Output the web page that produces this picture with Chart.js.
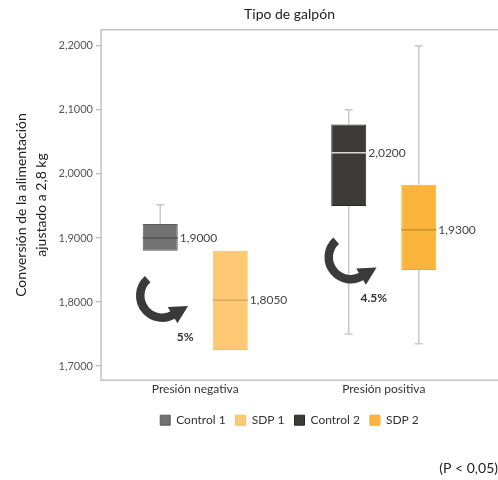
<!DOCTYPE html>
<html lang="es">
<head>
    <meta charset="UTF-8">
    <title>Tipo de galpón</title>
    <script src="https://cdn.jsdelivr.net/npm/chart.js"></script>
    <style>
        html, body {
            margin: 0;
            padding: 0;
            background: #fff;
        }
        #wrap {
            width: 498px;
            height: 480px;
        }
    </style>
</head>
<body>
    <div id="wrap"><canvas id="boxChart"></canvas></div>

    <script>
        // data
        const categories = ['Presión negativa', 'Presión positiva'];
        const seriesNames = ['Control 1', 'SDP 1', 'Control 2', 'SDP 2'];
        const seriesCategory = [0, 0, 1, 1];
        const q1 = [1.880, 1.725, 1.950, 1.850];
        const q3 = [1.922, 1.880, 2.077, 1.983];
        const medians = [1.900, 1.803, 2.033, 1.913];
        const whiskerLow = [1.880, 1.725, 1.750, 1.735];
        const whiskerHigh = [1.952, 1.880, 2.100, 2.200];
        const medianLabels = ['1,9000', '1,8050', '2,0200', '1,9300'];
        const yTicks = [1.7, 1.8, 1.9, 2.0, 2.1, 2.2];
        // curved arrows: one per category, vertical centre in axis units
        const arrowCentres = [1.81, 1.87];
        const arrowLabels = ['5%', '4.5%'];

        const fillColors = ['#727272', '#fec975', '#3c3a38', '#fbb53c'];
        const edgeColors = ['#5c5c5c', '#f3bd66', '#2a2826', '#eeaa33'];
        const medianColors = ['#555555', '#d9a85e', '#d8d8d8', '#cf8f2a'];

        const datasets = seriesNames.map((name, s) => ({
            label: name,
            data: categories.map((c, ci) => ci === seriesCategory[s] ? [q1[s], q3[s]] : null),
            backgroundColor: fillColors[s],
            borderColor: edgeColors[s],
            borderWidth: 1,
            borderSkipped: false
        }));

        function fmt(v) {
            return v.toFixed(4).replace('.', ',');
        }

        const boxExtras = {
            id: 'boxExtras',
            beforeDatasetsDraw(chart) {
                const ctx = chart.ctx;
                const y = chart.scales.y;
                const area = chart.chartArea;
                ctx.save();
                // frame, open on the right like the original
                ctx.strokeStyle = '#c4c4c4';
                ctx.lineWidth = 1.5;
                ctx.beginPath();
                ctx.moveTo(chart.width, area.top);
                ctx.lineTo(area.left, area.top);
                ctx.lineTo(area.left, area.bottom);
                ctx.lineTo(chart.width, area.bottom);
                ctx.stroke();
                // whiskers
                ctx.strokeStyle = '#c9c9c9';
                ctx.lineWidth = 1.5;
                seriesNames.forEach((name, s) => {
                    const bar = chart.getDatasetMeta(s).data[seriesCategory[s]];
                    const x = bar.x;
                    const pairs = [[q3[s], whiskerHigh[s]], [q1[s], whiskerLow[s]]];
                    pairs.forEach(([from, to]) => {
                        if (to === from) return;
                        ctx.beginPath();
                        ctx.moveTo(x, y.getPixelForValue(from));
                        ctx.lineTo(x, y.getPixelForValue(to));
                        ctx.moveTo(x - 4, y.getPixelForValue(to));
                        ctx.lineTo(x + 4, y.getPixelForValue(to));
                        ctx.stroke();
                    });
                });
                ctx.restore();
            },
            afterDatasetsDraw(chart) {
                const ctx = chart.ctx;
                const y = chart.scales.y;
                ctx.save();
                seriesNames.forEach((name, s) => {
                    const bar = chart.getDatasetMeta(s).data[seriesCategory[s]];
                    const half = bar.width / 2;
                    const my = y.getPixelForValue(medians[s]);
                    ctx.strokeStyle = medianColors[s];
                    ctx.lineWidth = 1.5;
                    ctx.beginPath();
                    ctx.moveTo(bar.x - half, my);
                    ctx.lineTo(bar.x + half, my);
                    ctx.stroke();
                    ctx.fillStyle = '#444';
                    ctx.font = '12px Lato';
                    ctx.textAlign = 'left';
                    ctx.textBaseline = 'middle';
                    ctx.fillText(medianLabels[s], bar.x + half + 2, my);
                });

                // curved arrows next to each control box
                categories.forEach((c, ci) => {
                    const s = seriesCategory.indexOf(ci);
                    const bar = chart.getDatasetMeta(s).data[ci];
                    const cx = bar.x + 2;
                    const cy = y.getPixelForValue(arrowCentres[ci]);
                    const r = 22;
                    const a0 = 1.27 * Math.PI;
                    const a1 = 0.33 * Math.PI;
                    ctx.strokeStyle = '#3a3a3a';
                    ctx.fillStyle = '#3a3a3a';
                    ctx.lineWidth = 8.5;
                    ctx.lineCap = 'butt';
                    ctx.beginPath();
                    ctx.arc(cx, cy, r, a0, a1, true);
                    ctx.stroke();
                    // arrow head along the tangent
                    const ex = cx + r * Math.cos(a1);
                    const ey = cy + r * Math.sin(a1);
                    const dx = Math.sin(a1), dy = -Math.cos(a1);
                    const nx = -dy, ny = dx;
                    ctx.beginPath();
                    ctx.moveTo(ex + dx * 17, ey + dy * 17);
                    ctx.lineTo(ex - dx * 1 + nx * 9.5, ey - dy * 1 + ny * 9.5);
                    ctx.lineTo(ex - dx * 1 - nx * 9.5, ey - dy * 1 - ny * 9.5);
                    ctx.closePath();
                    ctx.fill();
                    ctx.fillStyle = '#333';
                    ctx.font = 'bold 12px Lato';
                    ctx.textAlign = 'center';
                    ctx.textBaseline = 'middle';
                    ctx.fillText(arrowLabels[ci], cx + 23, cy + 41);
                });
                ctx.restore();
            }
        };

        new Chart(document.getElementById('boxChart'), {
            type: 'bar',
            data: {
                labels: categories,
                datasets: datasets
            },
            options: {
                responsive: true,
                maintainAspectRatio: false,
                animation: false,
                skipNull: true,
                categoryPercentage: 0.743,
                barPercentage: 0.5,
                layout: {
                    padding: 0
                },
                scales: {
                    x: {
                        grid: { display: false, tickLength: 0 },
                        border: { display: false },
                        ticks: {
                            color: '#333',
                            font: { family: 'Lato', size: 12 },
                            padding: 2
                        },
                        afterFit(scale) { scale.height = 24; }
                    },
                    y: {
                        min: 1.678,
                        max: 2.225,
                        border: { display: false },
                        grid: {
                            drawOnChartArea: false,
                            color: '#c4c4c4',
                            tickLength: 5,
                            lineWidth: 1.5
                        },
                        afterBuildTicks(scale) {
                            scale.ticks = yTicks.map(v => ({ value: v }));
                        },
                        ticks: {
                            color: '#555',
                            font: { family: 'Lato', size: 11 },
                            padding: 3,
                            callback: value => fmt(value)
                        },
                        title: {
                            display: true,
                            text: ['Conversión de la alimentación', 'ajustado a 2,8 kg'],
                            color: '#222',
                            font: { family: 'Lato', size: 14, lineHeight: 1.4 },
                            padding: { top: 12, bottom: 0 }
                        },
                        afterFit(scale) { scale.width = 101; }
                    },
                    // empty strip on the right so the plot stops short of the edge
                    yRight: {
                        position: 'right',
                        display: true,
                        grid: { display: false },
                        border: { display: false },
                        ticks: { display: false },
                        afterFit(scale) { scale.width = 20; }
                    }
                },
                plugins: {
                    title: {
                        display: true,
                        fullSize: false,
                        text: 'Tipo de galpón',
                        color: '#222',
                        font: { family: 'Lato', size: 14, weight: 'normal' },
                        padding: { top: 6, bottom: 7 }
                    },
                    subtitle: {
                        display: true,
                        position: 'bottom',
                        align: 'end',
                        text: '(P < 0,05)',
                        color: '#222',
                        font: { family: 'Lato', size: 14 },
                        padding: { top: 24, bottom: 3 }
                    },
                    legend: {
                        position: 'bottom',
                        fullSize: false,
                        labels: {
                            boxWidth: 10,
                            boxHeight: 10,
                            padding: 10,
                            color: '#333',
                            font: { family: 'Lato', size: 12 }
                        }
                    },
                    tooltip: { enabled: false }
                }
            },
            plugins: [boxExtras]
        });
    </script>
</body>
</html>
